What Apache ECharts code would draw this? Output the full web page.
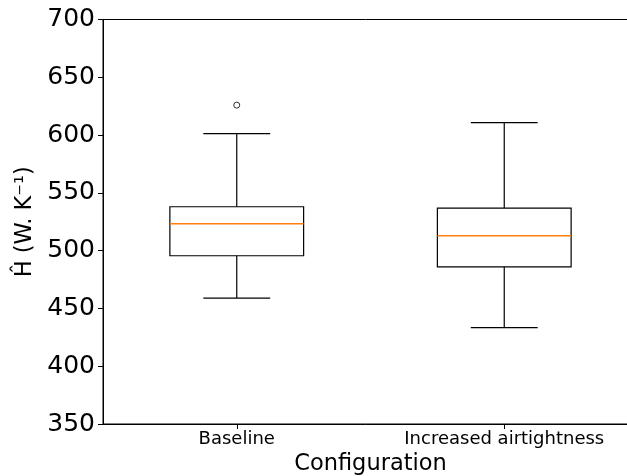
<!DOCTYPE html>
<html>
<head>
<meta charset="utf-8">
<script src="https://cdn.jsdelivr.net/npm/echarts@6/dist/echarts.min.js"></script>
<style>
html,body{margin:0;padding:0;background:#fff;}
#chart{width:627px;height:476px;}
</style>
</head>
<body>
<div id="chart"></div>
<script>
var categories = ['Baseline', 'Increased airtightness'];
var lowerWhisker = [459, 433.4];
var q1 = [495.6, 486];
var median = [523.3, 512.9];
var q3 = [538, 536.8];
var upperWhisker = [601.3, 610.8];
var outliers = [[0, 625.9]];
var yTicks = { min: 350, max: 700, interval: 50 };

var boxData = categories.map(function (c, i) {
  return [i, lowerWhisker[i], q1[i], median[i], q3[i], upperWhisker[i]];
});

var FONT = 'DejaVu Sans';
var chart = echarts.init(document.getElementById('chart'), null, { renderer: 'canvas' });

function renderBox(params, api) {
  var idx = api.value(0);
  var band = api.size([1, 0])[0];
  var boxHalf = band * 0.25;
  var capHalf = band * 0.125;
  var pLow = api.coord([idx, api.value(1)]);
  var pQ1 = api.coord([idx, api.value(2)]);
  var pMed = api.coord([idx, api.value(3)]);
  var pQ3 = api.coord([idx, api.value(4)]);
  var pHigh = api.coord([idx, api.value(5)]);
  var x = pMed[0];
  var lineStyle = { stroke: '#000', lineWidth: 1.2, fill: null };
  return {
    type: 'group',
    children: [
      { type: 'rect', shape: { x: x - boxHalf, y: pQ3[1], width: boxHalf * 2, height: pQ1[1] - pQ3[1] },
        style: { stroke: '#000', lineWidth: 1.2, fill: 'rgba(0,0,0,0)' } },
      { type: 'line', shape: { x1: x, y1: pQ3[1], x2: x, y2: pHigh[1] }, style: lineStyle },
      { type: 'line', shape: { x1: x, y1: pQ1[1], x2: x, y2: pLow[1] }, style: lineStyle },
      { type: 'line', shape: { x1: x - capHalf, y1: pHigh[1], x2: x + capHalf, y2: pHigh[1] }, style: lineStyle },
      { type: 'line', shape: { x1: x - capHalf, y1: pLow[1], x2: x + capHalf, y2: pLow[1] }, style: lineStyle },
      { type: 'line', shape: { x1: x - boxHalf, y1: pMed[1], x2: x + boxHalf, y2: pMed[1] },
        style: { stroke: '#ff7f0e', lineWidth: 1.4 } }
    ]
  };
}

chart.setOption({
  animation: false,
  backgroundColor: '#fff',
  grid: { left: 103, top: 19.5, right: -11, bottom: 52, outerBoundsMode: 'none', containLabel: false,
          show: true, borderColor: '#000', borderWidth: 1, backgroundColor: 'rgba(0,0,0,0)' },
  xAxis: {
    type: 'category',
    data: categories,
    boundaryGap: true,
    name: 'Configuration',
    nameLocation: 'middle',
    nameGap: 24,
    nameTextStyle: { fontFamily: FONT, fontSize: 22.5, color: '#000' },
    axisLine: { show: true, lineStyle: { color: '#000', width: 1 } },
    axisTick: { show: true, alignWithLabel: true, length: 5, lineStyle: { color: '#000', width: 1 } },
    axisLabel: { fontFamily: FONT, fontSize: 18, color: '#000', margin: 6 },
    splitLine: { show: false }
  },
  yAxis: {
    type: 'value',
    min: yTicks.min,
    max: yTicks.max,
    interval: yTicks.interval,
    name: 'Ĥ (W. K⁻¹)',
    nameLocation: 'middle',
    nameRotate: 90,
    nameGap: 62,
    nameTextStyle: { fontFamily: FONT, fontSize: 22.5, color: '#000' },
    axisLine: { show: true, lineStyle: { color: '#000', width: 1 } },
    axisTick: { show: true, length: 5, lineStyle: { color: '#000', width: 1 } },
    axisLabel: { fontFamily: FONT, fontSize: 25, color: '#000', margin: 8 },
    splitLine: { show: false }
  },
  series: [
    {
      type: 'custom',
      renderItem: renderBox,
      encode: { x: 0, y: [1, 2, 3, 4, 5] },
      data: boxData,
      z: 3
    },
    {
      type: 'scatter',
      data: outliers,
      symbol: 'circle',
      symbolSize: 6,
      itemStyle: { color: '#fff', borderColor: '#000', borderWidth: 1 },
      z: 4
    }
  ]
});
</script>
</body>
</html>
